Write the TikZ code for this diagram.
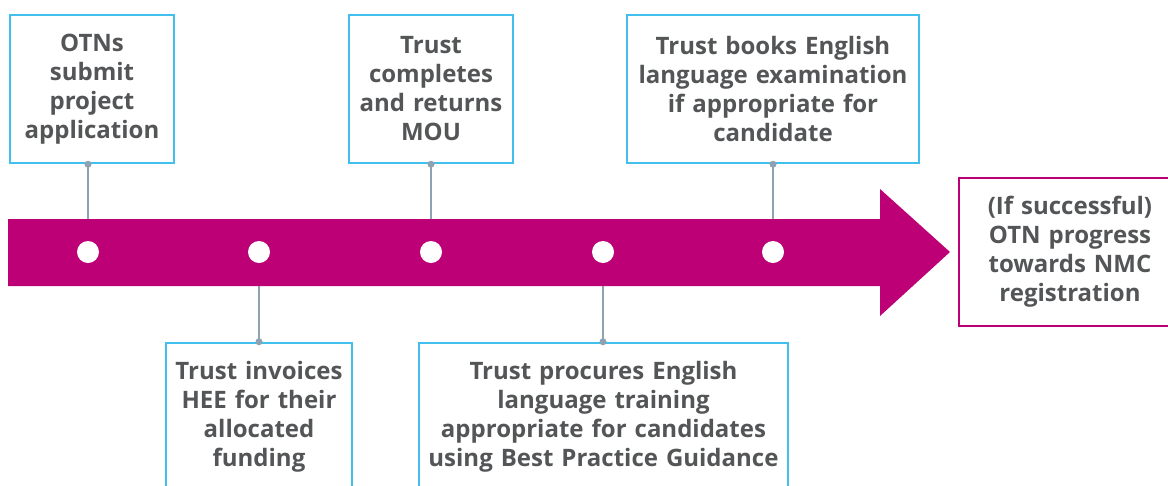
\documentclass[tikz,border=0pt]{standalone}
\usepackage{fontspec}
\setmainfont{Open Sans}
\usetikzlibrary{positioning}

\definecolor{nhsmagenta}{HTML}{BE0077}
\definecolor{boxcyan}{HTML}{41C0EE}
\definecolor{textgrey}{HTML}{545557}
\definecolor{linkgrey}{HTML}{8EA2B2}

\tikzset{
  stepbox/.style={draw=boxcyan, line width=2.5pt, fill=white, text=textgrey,
    align=center, inner sep=0pt, text width=#1, minimum height=148pt,
    font=\bfseries\fontsize{24}{29}\selectfont},
  endbox/.style={stepbox=#1, draw=nhsmagenta},
  link/.style={draw=linkgrey, line width=1.2pt},
  milestone/.style={circle, fill=white, minimum size=22pt, inner sep=0pt}
}

\begin{document}
\begin{tikzpicture}[x=1pt, y=-1pt]

    \useasboundingbox (0,0) rectangle (1168,485);
    \clip (0,0) rectangle (1168,485);

    % Zeitstrahl-Parameter
    \def\yTop{219}    % Oberkante Pfeil
    \def\yBot{286}    % Unterkante Pfeil
    \def\yMid{252}    % Mitte Pfeil
    \def\xHead{880}   % Beginn Pfeilspitze

    % --- Kästen oben ---
    \node[stepbox=164pt] (otn) at (92,89) {OTNs\\submit\\project\\application};
    \node[stepbox=164pt] (mou) at (431,89) {Trust\\completes\\and returns\\MOU};
    \node[stepbox=292pt] (exam) at (773,89)
      {Trust books English\\language examination\\if appropriate for\\candidate};

    % --- Kästen unten ---
    \node[stepbox=186pt] (invoice) at (259,417)
      {Trust invoices\\HEE for their\\allocated\\funding};
    \node[stepbox=369pt] (training) at (603.5,417)
      {Trust procures English\\language training\\appropriate for candidates\\using Best Practice Guidance};

    % --- Ziel ---
    \node[endbox=222pt] (nmc) at (1070,252)
      {(If successful)\\OTN progress\\towards NMC\\registration};

    % Meilensteine auf dem Pfeil
    \coordinate (m1) at (88,\yMid);
    \coordinate (m2) at (259,\yMid);
    \coordinate (m3) at (431,\yMid);
    \coordinate (m4) at (603,\yMid);
    \coordinate (m5) at (773,\yMid);

    % Verbindungslinien (hinter dem Pfeil)
    \draw[link] (m1 |- otn.south) -- (m1);
    \draw[link] (m3 |- mou.south) -- (m3);
    \draw[link] (m5 |- exam.south) -- (m5);
    \draw[link] (m2 |- invoice.north) -- (m2);
    \draw[link] (m4 |- training.north) -- (m4);

    % Pfeil
    \fill[nhsmagenta] (8,\yTop) -- (\xHead,\yTop) -- (\xHead,189) -- (950,\yMid)
      -- (\xHead,316) -- (\xHead,\yBot) -- (8,\yBot) -- cycle;

    \foreach \m in {m1,m2,m3,m4,m5}
      \node[milestone] at (\m) {};

    % Punkte an den Kästen
    \fill[linkgrey] (m1 |- otn.south) circle (3.5);
    \fill[linkgrey] (m3 |- mou.south) circle (3.5);
    \fill[linkgrey] (m5 |- exam.south) circle (3.5);
    \fill[linkgrey] (m2 |- invoice.north) circle (3.5);
    \fill[linkgrey] (m4 |- training.north) circle (3.5);

\end{tikzpicture}
\end{document}
